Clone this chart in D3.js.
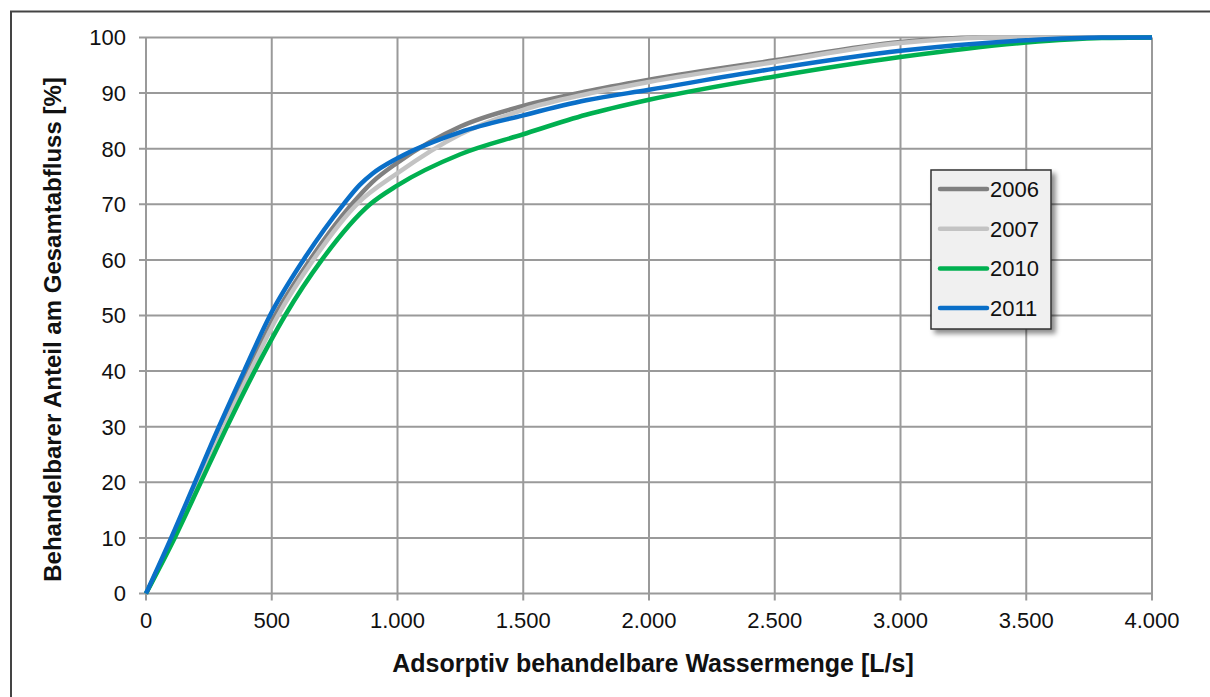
<!DOCTYPE html>
<html>
<head>
<meta charset="utf-8">
<script src="https://cdn.jsdelivr.net/npm/d3@7"></script>
<style>
  body { margin: 0; background: #fff; }
  svg { font-family: "Liberation Sans", Arial, sans-serif; }
</style>
</head>
<body>
<div id="chart"></div>
<script>
// x in L/s, y in %
var years = ["2006", "2007", "2010", "2011"];
var colors = ["#808080", "#c3c3c3", "#00b050", "#0a6fc8"];

var xs2006 = [0, 107, 205, 302, 405, 513, 652, 818, 900, 1000, 1250, 1500, 1750, 2000, 2500, 3000, 3300, 4000];
var ys2006 = [0, 10, 20, 30, 40, 50, 60, 70, 74, 77.5, 84, 87.7, 90.3, 92.4, 95.9, 99.2, 100, 100];

var xs2007 = [0, 110, 210, 310, 415, 525, 665, 838, 1000, 1250, 1500, 1750, 2000, 2500, 3000, 3400, 4000];
var ys2007 = [0, 10, 20, 30, 40, 50, 60, 70, 75.6, 82.6, 87.0, 89.8, 92.0, 95.6, 99.0, 100, 100];

var xs2010 = [0, 114, 218, 322, 432, 553, 699, 891, 1000, 1250, 1500, 1750, 2000, 2500, 3000, 3500, 3800, 4000];
var ys2010 = [0, 10, 20, 30, 40, 50, 60, 70, 73.4, 79.0, 82.6, 86.1, 88.8, 93.0, 96.5, 99.1, 99.9, 100];

var xs2011 = [0, 100, 195, 290, 390, 493, 626, 785, 850, 900, 1000, 1250, 1500, 1750, 2000, 2500, 3000, 3500, 3800, 4000];
var ys2011 = [0, 10, 20, 30, 40, 50, 60, 70, 73.5, 75.5, 78.3, 83.0, 86.0, 88.7, 90.6, 94.4, 97.6, 99.5, 100, 100];

var xTicks = [0, 500, 1000, 1500, 2000, 2500, 3000, 3500, 4000];
var yTicks = [0, 10, 20, 30, 40, 50, 60, 70, 80, 90, 100];

var series = [
  {name: years[0], xs: xs2006, ys: ys2006},
  {name: years[1], xs: xs2007, ys: ys2007},
  {name: years[2], xs: xs2010, ys: ys2010},
  {name: years[3], xs: xs2011, ys: ys2011}
];

var W = 1210, H = 697;
var margin = {top: 37.5, right: 58, bottom: 103.5, left: 146};

var svg = d3.select('#chart').append('svg')
    .attr('width', W)
    .attr('height', H);

var defs = svg.append('defs');
var f = defs.append('filter').attr('id', 'shadow')
    .attr('x', '-20%').attr('y', '-20%').attr('width', '150%').attr('height', '150%');
f.append('feDropShadow')
    .attr('dx', 4).attr('dy', 4).attr('stdDeviation', 2.5)
    .attr('flood-color', '#000').attr('flood-opacity', 0.45);

// outer frame (only top and left visible)
svg.append('path')
    .attr('d', 'M11,' + H + 'V11.5H' + W)
    .attr('fill', 'none')
    .attr('stroke', '#444')
    .attr('stroke-width', 2);

var w = W - margin.left - margin.right,
    h = H - margin.top - margin.bottom;

var x = d3.scaleLinear().domain([0, 4000]).range([0, w]);
var y = d3.scaleLinear().domain([0, 100]).range([h, 0]);

var g = svg.append('g')
    .attr('transform', 'translate(' + margin.left + ',' + margin.top + ')');

// grid
g.append('g').selectAll('line')
    .data(yTicks).enter().append('line')
    .attr('x1', -7).attr('x2', w)
    .attr('y1', function(d){ return y(d); })
    .attr('y2', function(d){ return y(d); })
    .attr('stroke', '#9a9a9a').attr('stroke-width', 2);

g.append('g').selectAll('line')
    .data(xTicks).enter().append('line')
    .attr('y1', 0).attr('y2', h + 7)
    .attr('x1', function(d){ return x(d); })
    .attr('x2', function(d){ return x(d); })
    .attr('stroke', '#9a9a9a').attr('stroke-width', 2);

// tick labels
var fmt = function(d){ return d3.format(',')(d).replace(/,/g, '.'); };

g.append('g').selectAll('text')
    .data(xTicks).enter().append('text')
    .attr('x', function(d){ return x(d); })
    .attr('y', h + 34)
    .attr('text-anchor', 'middle')
    .attr('font-size', '22px')
    .attr('fill', '#111')
    .text(fmt);

g.append('g').selectAll('text')
    .data(yTicks).enter().append('text')
    .attr('x', -20)
    .attr('y', function(d){ return y(d); })
    .attr('dy', '0.36em')
    .attr('text-anchor', 'end')
    .attr('font-size', '22px')
    .attr('fill', '#111')
    .text(function(d){ return d; });

// lines
var line = d3.line()
    .x(function(d){ return x(d[0]); })
    .y(function(d){ return y(d[1]); })
    .curve(d3.curveMonotoneX);

g.append('g').selectAll('path')
    .data(series).enter().append('path')
    .attr('d', function(s){ return line(d3.zip(s.xs, s.ys)); })
    .attr('fill', 'none')
    .attr('stroke', function(s, i){ return colors[i]; })
    .attr('stroke-width', 4.5)
    .attr('stroke-linejoin', 'round');

// axis titles
svg.append('text')
    .attr('x', margin.left + w / 2 + 4)
    .attr('y', 672)
    .attr('text-anchor', 'middle')
    .attr('font-size', '25px')
    .attr('font-weight', 'bold')
    .attr('fill', '#111')
    .text('Adsorptiv behandelbare Wassermenge [L/s]');

svg.append('text')
    .attr('transform', 'translate(61,' + (margin.top + h / 2 + 14) + ')rotate(-90)')
    .attr('text-anchor', 'middle')
    .attr('font-size', '24px')
    .attr('font-weight', 'bold')
    .attr('fill', '#111')
    .text('Behandelbarer Anteil am Gesamtabfluss [%]');

// legend
var legend = svg.append('g').attr('transform', 'translate(931,170)');
legend.append('rect')
    .attr('width', 120).attr('height', 159)
    .attr('fill', '#f0f0f0')
    .attr('stroke', '#333').attr('stroke-width', 1.5)
    .attr('filter', 'url(#shadow)');

var li = legend.selectAll('g.item')
    .data(years).enter().append('g')
    .attr('class', 'item')
    .attr('transform', function(d, i){ return 'translate(0,' + (19 + i * 39.7) + ')'; });

li.append('line')
    .attr('x1', 9).attr('x2', 56)
    .attr('stroke', function(d, i){ return colors[i]; })
    .attr('stroke-width', 4.5)
    .attr('stroke-linecap', 'round');

li.append('text')
    .attr('x', 59)
    .attr('dy', '0.36em')
    .attr('font-size', '22px')
    .attr('fill', '#111')
    .text(function(d){ return d; });
</script>
</body>
</html>
